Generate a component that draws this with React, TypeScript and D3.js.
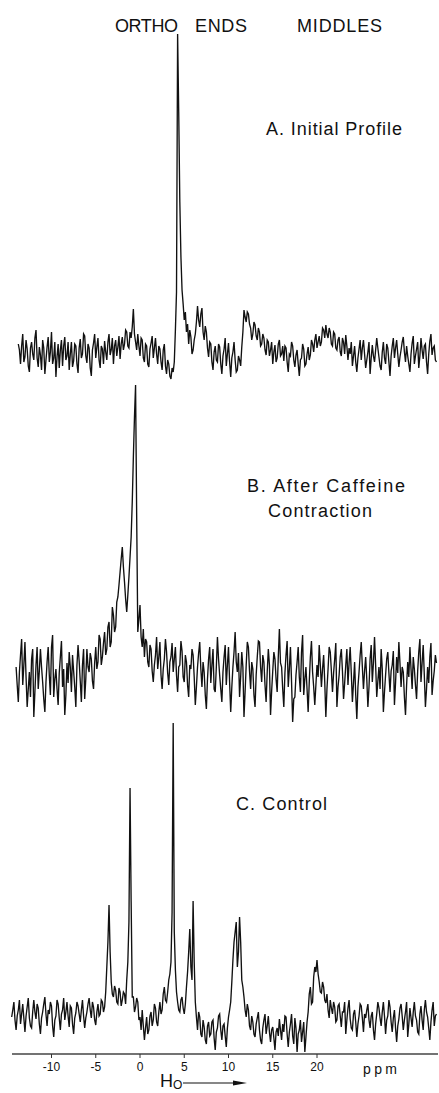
import React from "react";
import * as d3 from "d3";

// chemical shift grid: every trace is sampled each 0.125 ppm from its own start
const PPM_STEP = 0.125;
const AXIS_TICKS = [-10, -5, 0, 5, 10, 15, 20];

// A. Initial Profile (intensity, arbitrary units above the baseline)
const A_START = -13.75;
const A_VALUES = [
  8, 2, -12, 6, 18, -10, -5, 12, 3, -14, -20, 4, 10, -2, -8, 14, 22, -6, -15, 5,
  -3, -18, 12, 4, -22, -8, 5, 15, -10, 0, 20, -12, -6, 10, -25, -5, 8, -16, 2, 12,
  -14, 6, 15, -8, -4, 10, -18, -2, 10, -15, -9, 8, 6, -12, -21, 4, 13, -6, -2, 18,
  16, -4, -11, 8, 4, -16, -24, 2, 9, 18, -6, 5, 14, -8, -16, 6, 3, -12, 11, 0,
  -8, 10, 18, -3, 2, 14, -12, 6, 12, -4, 5, 16, -7, 8, 15, 2, 8, 22, 20, 6,
  4, 20, 14, 25, 43, 18, 10, 2, 18, 6, -4, 14, 12, -6, -10, 8, 6, -12, -15, 3,
  9, 16, -6, 4, 14, -2, -12, 6, 3, -10, -18, 2, 8, -14, -22, -8, -12, -24, -27, -16,
  -20, -10, 22, 60, 318, 240, 150, 95, 62, 48, 32, 40, 20, 28, 8, 22, 15, -2, 2, 12,
  18, 30, 46, 32, 25, 38, 44, 20, 12, 26, 20, 4, -5, 10, 8, -10, -18, 0, 6, -8,
  -10, 8, 5, -12, -22, -4, 3, 14, -14, -2, 9, -10, -25, -6, 0, 10, -8, -20, -18, -4,
  -8, -14, 5, 20, 42, 35, 30, 40, 38, 28, 24, 12, 18, 30, 27, 16, 12, 24, 20, 6,
  8, 18, 14, 2, -3, 12, 10, -4, 2, 10, -12, 0, 7, -10, -6, 8, 12, -4, -2, 6,
  -9, 6, 4, -10, -20, -2, -4, 10, 6, -8, -15, -3, 2, -12, -24, -8, -6, 8, 3, -14,
  -12, -2, 5, -8, -3, 12, 8, 0, 12, 18, 4, 10, 16, 6, 10, 24, 22, 14, 27, 18,
  14, 24, 20, 8, 6, 20, 18, 4, 2, 12, 15, 0, -4, 14, 10, -2, 17, 6, -8, 4,
  -2, 10, -14, -4, 6, -10, -20, -6, 3, 12, -8, 4, 12, -2, -16, -8, 0, 10, -22, -6,
  7, -4, -10, 2, 14, 4, -5, -14, -18, 0, 10, -6, -12, 8, 4, -10, -24, -4, 6, 14,
  -6, 4, 12, -2, -15, -5, 2, 10, 15, 0, -10, 6, -4, -12, -20, -2, 9, 16, -12, -4,
  3, 10, -16, -4, 14, 2, -7, 6, 8, -10, -22, -2, 11, 18, -3, 4, 6, -8, -10,
];

// B. After Caffeine Contraction
const B_START = -14;
const B_VALUES = [
  10, -8, -25, 5, 22, 38, -8, 12, 35, 0, -30, -12, 5, -20, 18, 28, -40, -15, 12, 30,
  -12, 6, 28, 10, -5, -22, -35, -5, 15, 30, 2, -18, 30, 42, -20, -2, 8, -12, -28, 4,
  20, 36, -10, 8, -38, -18, 14, -6, 25, 10, -15, 22, 6, -10, -30, 12, 32, 16, -4, -25,
  12, 28, -22, -2, 28, 10, 5, 24, 18, -4, -12, 14, 30, 8, 15, 42, 38, 12, 20, 34,
  45, 22, 28, 50, 55, 30, 35, 70, 62, 45, 50, 75, 80, 92, 105, 118, 130, 110, 95, 78,
  65, 82, 100, 120, 140, 175, 220, 260, 292, 160, 45, 58, 72, 40, 30, 48, 20, 38, 35, 15,
  10, 32, 28, 6, -5, 12, 22, 40, 8, 20, 35, 2, -12, 8, 18, 38, 25, 4, -8, 15,
  20, 34, 5, 18, 30, 2, -15, 10, 12, 36, 26, 0, -5, 22, 15, -8, -20, 12, 8, 28,
  22, 0, -28, -10, 10, 24, 35, 8, -10, 15, 5, -18, -32, -2, 18, 30, -6, 12, 28, -12,
  -15, 10, 40, 18, 2, -12, -25, 5, 20, 32, -8, 12, 30, -5, -35, -10, 10, 25, 45, 15,
  5, 24, -20, 0, 25, 10, -40, -15, 12, 35, 30, 6, -12, 15, 8, -18, -30, 2, 20, 36,
  35, 10, -5, 22, 15, -8, -25, 5, 28, 12, -38, -14, 6, 25, 18, -2, -15, 20, 48, 14,
  10, -12, -30, 4, 22, 36, -10, 8, 30, -5, -45, -22, -20, 2, 15, 30, 0, -15, 25, 42,
  -18, -2, 10, -12, -35, -5, 20, 36, 5, -10, -28, -8, 12, 0, 32, 12, -10, 8, 22, -5,
  -40, -12, 8, 30, 25, 6, -15, 4, 18, 34, -30, -10, 2, 20, 28, 6, -22, -6, 12, 28,
  -8, 14, 30, 4, -25, -6, 15, -18, -42, -10, 5, 22, 35, 10, -12, 6, 20, -2, -30, -10,
  18, 32, -5, 14, 40, 12, -20, -4, 10, -12, 28, 8, -35, -15, 2, 18, 25, 4, -15, 6,
  12, 26, -28, -6, 20, 4, 35, 14, -10, 10, 5, -20, -38, -8, 15, 0, 30, 8, -12, 20,
  8, -8, -22, 6, 25, 38, -5, 14, 32, 2, -30, -12, 10, -6, 20, 34, -18, -4, 6, 22,
  14,
];

// C. Control
const C_START = -14.5;
const C_VALUES = [
  5, 12, 20, 2, -8, 6, 12, 22, -2, 8, 18, 4, -10, 6, 15, 24, 4, -4, -6, 10,
  22, 10, 3, 18, 14, -2, -12, 4, 10, 18, 25, 8, -4, 12, 8, 20, 16, -4, -15, 2,
  6, 22, 18, 4, -8, 8, 12, 24, 2, 10, 20, 6, -5, 16, 14, -2, -12, 4, 9, 20,
  16, 8, 0, 12, 22, 6, -6, 4, 10, 18, 24, 12, 4, 20, 15, 2, -3, 10, 18, 6,
  8, 22, 20, 10, 15, 30, 55, 80, 117, 70, 40, 28, 25, 36, 32, 20, 18, 34, 30, 16,
  22, 30, 28, 18, 42, 60, 100, 234, 120, 25, 25, 10, 15, 24, 20, 2, 5, -8, 12, -4,
  -18, -6, 5, -12, -8, 6, 10, -4, 2, 18, 14, 0, -4, 10, 20, 8, 12, 28, 35, 22,
  20, 30, 42, 48, 60, 110, 299, 90, 52, 30, 20, 12, 10, 22, 25, 14, 8, 18, 35, 50,
  70, 93, 55, 42, 121, 60, 20, 5, -8, 10, 5, -12, -15, 2, -5, -18, -22, -4, 0, -14,
  -12, 0, 2, -16, -28, -10, -6, 6, 8, -8, -18, -4, -2, -14, -25, -6, 5, 12, 20, 40,
  62, 80, 90, 100, 55, 70, 105, 80, 42, 35, 25, 12, 5, 18, 12, -4, -8, 6, 0, -12,
  -15, -2, 4, 10, -8, -18, -22, -6, 2, 8, -12, -4, 6, -10, -20, -8, -5, -16, -28, -10,
  -6, -14, 3, -8, -18, -2, -10, 6, 5, -12, -25, -10, -2, 8, -14, -22, 4, -6, -30, -12,
  -8, 2, -20, -10, 0, -30, -15, 0, 10, 28, 35, 18, 20, 45, 55, 50, 62, 48, 40, 30,
  29, 40, 35, 22, 19, 28, 12, 4, 22, 14, 8, 20, 15, 0, 2, 16, 18, 6, -5, 10,
  10, 20, -12, 2, 14, 22, 3, -6, -8, 8, 12, 0, -15, -2, 6, 18, 16, 4, -10, 8,
  4, 12, 18, 2, -6, 6, 10, -8, -18, -2, 8, 20, 14, 4, -4, 10, 20, 6, -12, 2,
  6, 22, 15, 0, -10, 4, 12, -6, -20, -4, 3, 14, 18, 6, -8, 2, 10, 20, -15, -2,
  14, 4, -5, 10, 20, 6, 2, -10, -12, 8, 16, 2, -8, 12, 22, 10, 5, -6, -18, 0,
  12, 20, -4, 6, 8,
];

const W = 439;
const H = 1093;
const FONT = "'Liberation Sans', Arial, sans-serif";

const x = d3.scaleLinear().domain([-10, 20]).range([51.5, 317]);

const panels = [
  { start: A_START, values: A_VALUES, base: 352 },
  { start: B_START, values: B_VALUES, base: 677 },
  { start: C_START, values: C_VALUES, base: 1022 },
];

const AXIS_Y = 1054;

export default function App() {
  return (
    <svg
      width={W}
      height={H}
      style={{ position: "absolute", left: 0, top: 0, background: "#fff" }}
    >
      {panels.map((p, k) => {
        const y = d3.scaleLinear().domain([0, 100]).range([p.base, p.base - 100]);
        const line = d3
          .line<number>()
          .x((_, i) => x(p.start + i * PPM_STEP))
          .y((d) => y(d));
        return (
          <path
            key={k}
            d={line(p.values) || ""}
            fill="none"
            stroke="#111"
            strokeWidth={1.35}
          />
        );
      })}

      {/* header labels */}
      <g fontFamily={FONT} fill="#111" fontSize={18}>
        <text x={115} y={32} textLength={63} lengthAdjust="spacing">ORTHO</text>
        <text x={195} y={32} textLength={52} lengthAdjust="spacing">ENDS</text>
        <text x={297} y={32} textLength={85} lengthAdjust="spacing">MIDDLES</text>
        <text x={266} y={135} textLength={136} lengthAdjust="spacing">A. Initial Profile</text>
        <text x={247} y={492} textLength={158} lengthAdjust="spacing">B. After Caffeine</text>
        <text x={268} y={517} textLength={104} lengthAdjust="spacing">Contraction</text>
        <text x={236} y={810} textLength={91} lengthAdjust="spacing">C. Control</text>
      </g>

      {/* ppm axis */}
      <line x1={12} x2={438} y1={AXIS_Y} y2={AXIS_Y} stroke="#444" strokeWidth={1.3} />
      {AXIS_TICKS.map((t) => (
        <g key={t} transform={`translate(${x(t)},${AXIS_Y})`}>
          <line y1={0} y2={4} stroke="#333" strokeWidth={1} />
          <text y={17} textAnchor="middle" fontFamily={FONT} fontSize={12} fill="#111">
            {t}
          </text>
        </g>
      ))}
      <text x={363} y={1074} fontFamily={FONT} fontSize={14} fill="#111" textLength={34} lengthAdjust="spacing">
        ppm
      </text>

      {/* field direction */}
      <text x={160} y={1087} fontFamily={FONT} fontSize={18} fill="#111">
        H<tspan dy={2} fontSize={12}>O</tspan>
      </text>
      <line x1={183} x2={236} y1={1083} y2={1083} stroke="#111" strokeWidth={1.2} />
      <path d="M233,1080.5 L247,1083 L233,1085.5 Z" fill="#111" />
    </svg>
  );
}
